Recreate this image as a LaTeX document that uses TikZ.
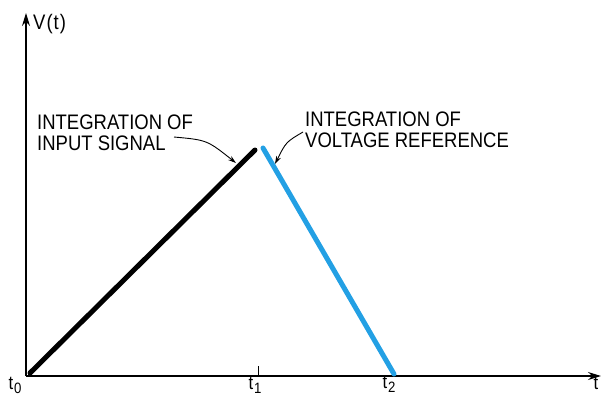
\documentclass[tikz,border=0pt]{standalone}
\usepackage{fontspec}
\setmainfont[FakeStretch=0.88]{Liberation Sans}
\usetikzlibrary{arrows.meta}
\definecolor{refblue}{RGB}{35,160,228}
\newcommand{\tsub}[1]{t\kern1pt\raisebox{-4pt}{\fontsize{15}{15}\selectfont #1}}
\begin{document}
\begin{tikzpicture}[x=1pt,y=-1pt,>=stealth,
    axis/.style={line width=1.3pt,-{Stealth[length=13pt,width=8pt]}},
    ramp/.style={line width=5pt,line cap=round},
    note/.style={anchor=north west,inner sep=0pt,align=left,font=\fontsize{21}{21}\selectfont},
    tlabel/.style={anchor=north,inner sep=0pt,font=\fontsize{19}{21}\selectfont},
    pointer/.style={line width=0.9pt,-{Stealth[length=8pt,width=5pt]}}]
    \useasboundingbox (0,0) rectangle (601,397);
    % axes
    \coordinate (origin) at (26,376);
    \coordinate (ytop) at (26,13);
    \coordinate (xend) at (601,376);
    \draw[axis] (origin) -- (ytop);
    \draw[axis] (origin) -- (xend);
    \node (vt) [anchor=base west,inner sep=0pt,font=\fontsize{21}{21}\selectfont] at (33,29) {V\kern1pt(\kern1pt t\kern1pt)};
    % tick at t1
    \coordinate (tick) at (258,366);
    \coordinate (tickbase) at (258,376);
    \draw[line width=1pt] (tickbase) -- (tick);
    % time labels
    \node (t0) [tlabel] at (15,377) {\tsub{0}};
    \node (t1) [tlabel] at (255,377) {\tsub{1}};
    \node (t2) [tlabel] at (389,376) {\tsub{2}};
    \node (t) [tlabel] at (596,377) {t};
    % ramps
    \coordinate (start) at (30,373);
    \coordinate (peakin) at (255,150);
    \coordinate (peakref) at (263,148);
    \coordinate (stop) at (394,374);
    \draw[ramp,black] (start) -- (peakin);
    \draw[ramp,refblue] (peakref) -- (stop);
    % annotations
    \node (inp) [note] at (37,115) {INTEGRATION OF\\INPUT SIGNAL};
    \node (vref) [note] at (305,112) {INTEGRATION OF\\VOLTAGE REFERENCE};
    \coordinate (inpfrom) at (174,137);
    \coordinate (inpto) at (236,163);
    \coordinate (vreffrom) at (303,132);
    \coordinate (vrefto) at (275,164);
    \draw[pointer] (inpfrom) .. controls (207,140) .. (inpto);
    \draw[pointer] (vreffrom) .. controls (286,142) .. (vrefto);
\end{tikzpicture}
\end{document}
